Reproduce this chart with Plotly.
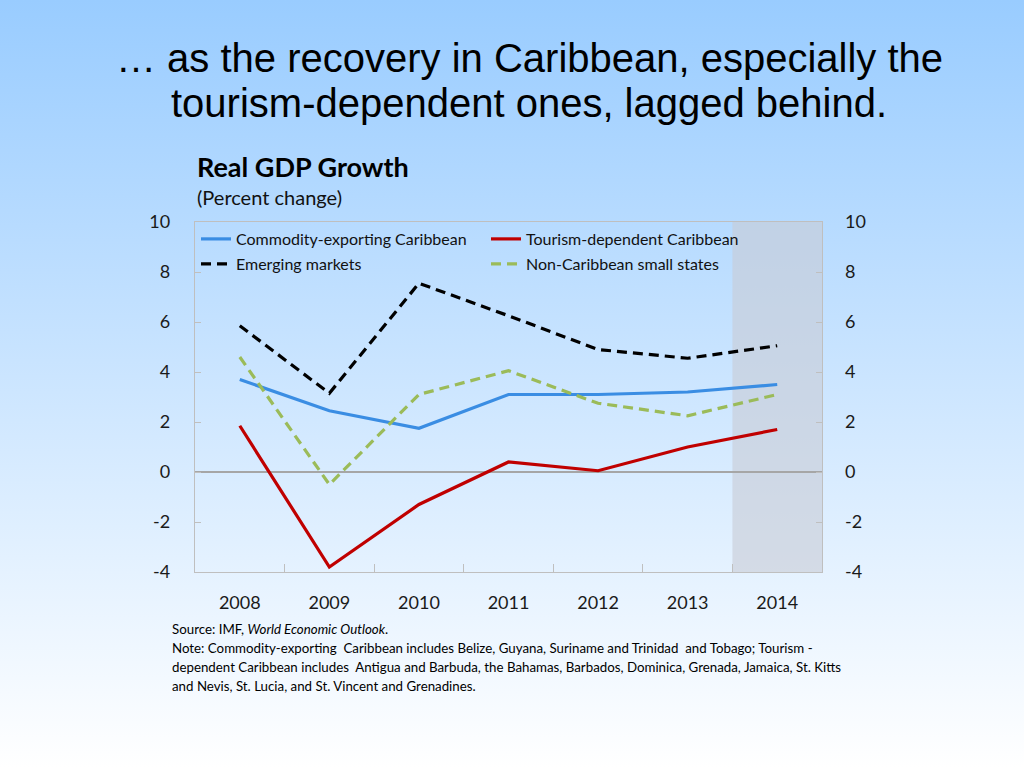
import base64
import plotly.graph_objects as go

# ---------------- data ----------------
years = [2008, 2009, 2010, 2011, 2012, 2013, 2014]
commodity = [3.7, 2.45, 1.75, 3.1, 3.1, 3.2, 3.5]
tourism = [1.85, -3.8, -1.3, 0.4, 0.05, 1.0, 1.7]
emerging = [5.85, 3.15, 7.55, 6.25, 4.9, 4.55, 5.05]
non_carib = [4.6, -0.5, 3.1, 4.05, 2.75, 2.25, 3.1]
y_ticks = [-4, -2, 0, 2, 4, 6, 8, 10]
y_tick_labels = ["-4", "-2", "0", "2", "4", "6", "8", "10"]
projection_span = [2013.5, 2014.5]

series_names = ["Commodity-exporting Caribbean", "Tourism-dependent Caribbean",
                "Emerging markets", "Non-Caribbean small states"]

title_lines = ["\u2026 as the recovery in Caribbean, especially the",
               "tourism-dependent ones, lagged behind."]
note_lines = [
    "Source: IMF, <i>World Economic Outlook</i>.",
    "Note: Commodity-exporting  Caribbean includes Belize, Guyana, Suriname and Trinidad  and Tobago; Tourism -",
    "dependent Caribbean includes  Antigua and Barbuda, the Bahamas, Barbados, Dominica, Grenada, Jamaica, St. Kitts",
    "and Nevis, St. Lucia, and St. Vincent and Grenadines.",
]

# ---------------- layout geometry ----------------
W, H = 1024, 768
L, R, T, B = 195, 822, 222, 572
PW, PH = R - L, B - T


def px(x):
    return (x - L) / PW


def py(y):
    return (B - y) / PH


SANS = "Lato, 'Open Sans', sans-serif"
fig = go.Figure()

styles = [
    dict(color="#3A8DE3", width=3.2),
    dict(color="#C00000", width=3.2),
    dict(color="#000000", width=3.2, dash="10px,6px"),
    dict(color="#9BBB59", width=3.2, dash="10px,6px"),
]
for name, vals, st, lg in zip(series_names, [commodity, tourism, emerging, non_carib], styles,
                              ["legend", "legend", "legend2", "legend2"]):
    fig.add_trace(go.Scatter(x=years, y=vals, mode="lines", name=name, line=st,
                             legend=lg, hoverinfo="skip"))

# invisible trace for right axis
fig.add_trace(go.Scatter(x=years, y=commodity, yaxis="y2", mode="lines",
                         line=dict(width=0), showlegend=False, hoverinfo="skip", opacity=0))

# background gradient
svg = ('<svg xmlns="http://www.w3.org/2000/svg" width="1024" height="768" preserveAspectRatio="none">'
       '<defs><linearGradient id="g" x1="0" y1="0" x2="0" y2="1">'
       '<stop offset="0" stop-color="#99CCFF"/><stop offset="1" stop-color="#FFFFFF"/>'
       '</linearGradient></defs><rect width="1024" height="768" fill="url(#g)"/></svg>')
src = "data:image/svg+xml;base64," + base64.b64encode(svg.encode()).decode()
fig.add_layout_image(dict(source=src, xref="paper", yref="paper", x=px(0), y=py(0),
                          sizex=W / PW, sizey=H / PH, xanchor="left", yanchor="top",
                          sizing="stretch", layer="below"))

# projection shading
fig.add_shape(type="rect", xref="x", yref="paper", x0=projection_span[0], x1=projection_span[1],
              y0=0, y1=1, fillcolor="rgba(200,204,214,0.6)", line=dict(width=0), layer="below")

annotations = []
for i, t in enumerate(title_lines):
    annotations.append(dict(text=t, xref="paper", yref="paper", x=px(529), y=py(58 + 45 * i),
                            xanchor="center", yanchor="middle", showarrow=False,
                            font=dict(family="Liberation Sans, Arial", size=40, color="#000000")))
annotations.append(dict(text="<b>Real GDP Growth</b>", xref="paper", yref="paper", x=px(195),
                        y=py(166), xanchor="left", yanchor="middle", showarrow=False,
                        font=dict(family=SANS, size=27, color="#000000")))
annotations.append(dict(text="(Percent change)", xref="paper", yref="paper", x=px(195),
                        y=py(197), xanchor="left", yanchor="middle", showarrow=False,
                        font=dict(family=SANS, size=20, color="#111111")))
for i, t in enumerate(note_lines):
    annotations.append(dict(text=t, xref="paper", yref="paper", x=px(170), y=py(629 + 19 * i),
                            xanchor="left", yanchor="middle", showarrow=False,
                            font=dict(family=SANS, size=13.3, color="#000000")))

axis_font = dict(family=SANS, size=18, color="#1a1a1a")
legend_common = dict(orientation="h", xanchor="left", yanchor="top", bgcolor="rgba(0,0,0,0)",
                     font=dict(family=SANS, size=16, color="#111111"), entrywidth=245,
                     entrywidthmode="pixels", itemwidth=30)

fig.update_layout(
    width=W, height=H,
    margin=dict(l=L, r=W - R, t=T, b=H - B, pad=0),
    paper_bgcolor="#FFFFFF", plot_bgcolor="rgba(0,0,0,0)",
    showlegend=True,
    legend=dict(x=px(196), y=py(222), **legend_common),
    legend2=dict(x=px(196), y=py(247), **legend_common),
    xaxis=dict(range=[2007.5, 2014.5], tickmode="array", tickvals=years,
               ticktext=[str(y) for y in years], ticks="", tickfont=axis_font,
               ticklabelstandoff=14, showgrid=False, zeroline=False,
               showline=True, linecolor="#BFBFBF", linewidth=1.3, mirror=True,
               minor=dict(tickmode="array", tickvals=[y + 0.5 for y in years[:-1]],
                          ticks="inside", ticklen=8, tickcolor="#BFBFBF", tickwidth=1,
                          showgrid=False)),
    yaxis=dict(range=[-4, 10], tickmode="array", tickvals=y_ticks, ticktext=y_tick_labels,
               ticks="inside", ticklen=6, tickcolor="#BFBFBF", tickfont=axis_font,
               ticklabelstandoff=20, showgrid=False, zeroline=True, zerolinecolor="#A6A6A6",
               zerolinewidth=1.5, showline=True, linecolor="#BFBFBF", linewidth=1.3, mirror=True),
    yaxis2=dict(range=[-4, 10], tickmode="array", tickvals=y_ticks, ticktext=y_tick_labels,
                ticks="inside", ticklen=6, tickcolor="#BFBFBF", tickfont=axis_font,
                ticklabelstandoff=22, overlaying="y", side="right", showgrid=False,
                zeroline=False, showline=False),
    annotations=annotations,
)

fig.write_html("out.html", config={"displayModeBar": False},
               post_script="document.body.style.margin='0';document.body.style.overflow='hidden';")
